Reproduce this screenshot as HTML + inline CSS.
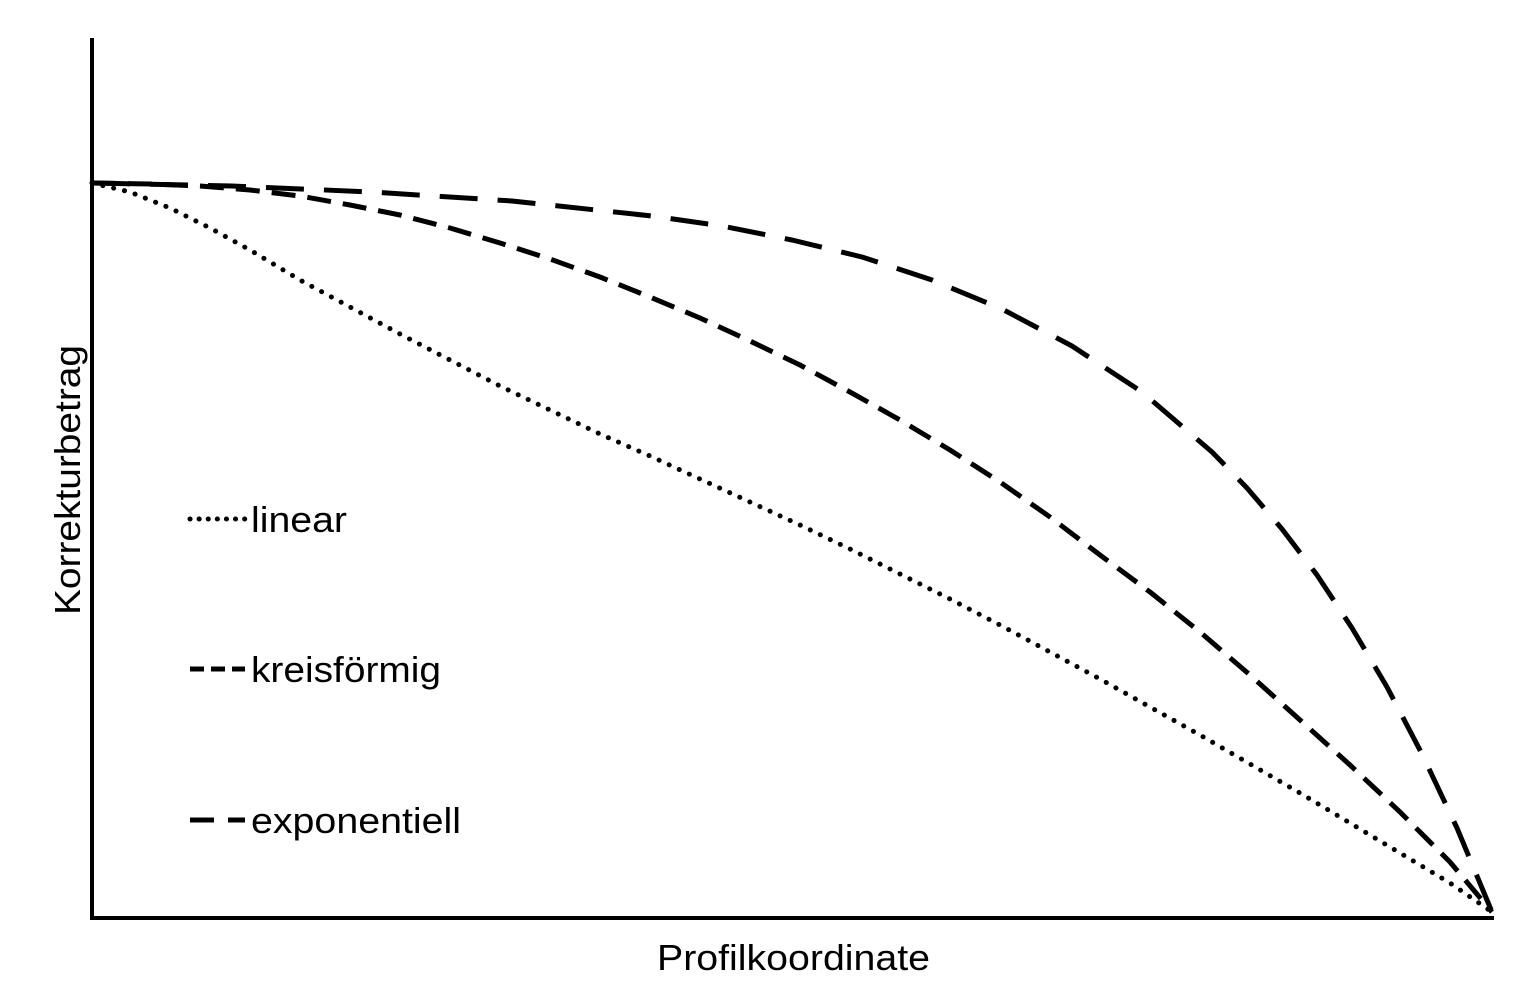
<!DOCTYPE html>
<html><head><style>body{margin:0;background:#fff}svg{display:block}</style></head>
<body>
<svg width="1527" height="986" xmlns="http://www.w3.org/2000/svg" font-family="Liberation Sans, sans-serif">
<rect width="1527" height="986" fill="#fff"/>
<line x1="92" y1="38" x2="92" y2="920" stroke="#000" stroke-width="4"/>
<line x1="90" y1="918" x2="1494" y2="918" stroke="#000" stroke-width="4"/>
<g fill="none" stroke="#000" stroke-linejoin="round">
<polyline stroke-width="5" stroke-linecap="round" stroke-dasharray="0.1 11" points="92,183 130,192 170,208 210,228 250,250 300,280 350,307 400,334 450,360 500,386 550,410 600,434 650,456 700,479 750,502 800,525 850,549 900,574 950,599 1000,625 1050,652 1100,679 1150,707 1200,735 1250,764 1300,793 1350,823 1400,853 1450,883 1492,912"/>
<polyline stroke-width="5" stroke-dasharray="24 12" points="92,183 150,184 200,186 250,190 300,196 350,205 400,215 450,228 500,243 550,259 600,277 650,297 700,318 750,341 800,365 850,392 900,420 950,450 1000,482 1050,517 1100,555 1150,592 1200,632 1250,675 1300,720 1350,765 1400,812 1450,862 1492,912"/>
<polyline stroke-width="5" stroke-dasharray="38 20" points="92,183 232,186 372,192 512,201 652,216 722,226 792,240 862,257 932,280 1002,309 1072,346 1142,392 1212,452 1247,488 1282,529 1317,575 1352,628 1387,687 1422,754 1457,828 1492,912"/>
<line x1="190" y1="519" x2="245" y2="519" stroke-width="5" stroke-linecap="round" stroke-dasharray="0.1 9"/>
<line x1="190" y1="669" x2="245" y2="669" stroke-width="5" stroke-dasharray="14 7"/>
<line x1="190" y1="820" x2="245" y2="820" stroke-width="5" stroke-dasharray="24 14"/>
</g>
<g font-size="36" fill="#000">
<text x="251" y="532" textLength="96" lengthAdjust="spacingAndGlyphs">linear</text>
<text x="251" y="682" textLength="190" lengthAdjust="spacingAndGlyphs">kreisförmig</text>
<text x="251" y="833" textLength="210" lengthAdjust="spacingAndGlyphs">exponentiell</text>
<text x="657" y="970" textLength="273" lengthAdjust="spacingAndGlyphs">Profilkoordinate</text>
<text transform="translate(80,615) rotate(-90)" textLength="270" lengthAdjust="spacingAndGlyphs">Korrekturbetrag</text>
</g>
</svg>
</body></html>
